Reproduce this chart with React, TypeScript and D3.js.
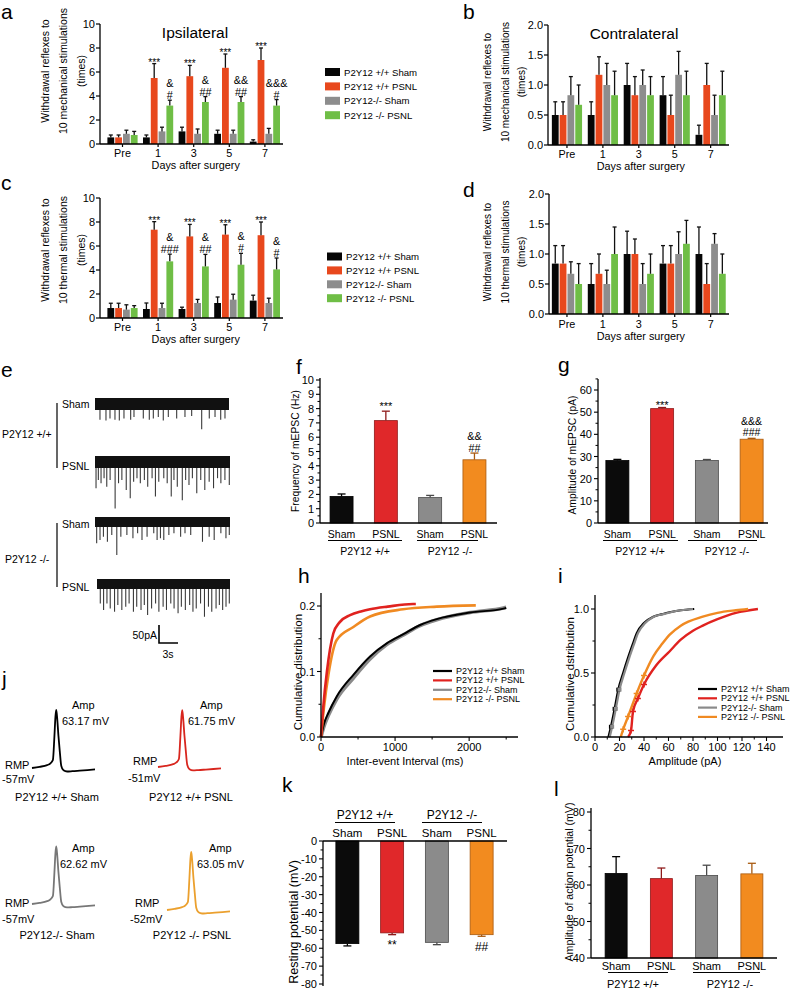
import React from "react";
import * as d3 from "d3";

const FONT = "'Liberation Sans', Arial, Helvetica, sans-serif";

// ---------------- panels a–d ----------------
const days = ["Pre", "1", "3", "5", "7"];
const groupNames = ["P2Y12 +/+ Sham", "P2Y12 +/+ PSNL", "P2Y12-/- Sham", "P2Y12 -/- PSNL"];
const adColors = ["#060606", "#e8481d", "#8d8d8d", "#6fbe46"];

// per day: [+/+ Sham, +/+ PSNL, -/- Sham, -/- PSNL]
const mechIpsiMean = [[0.55, 0.55, 0.85, 0.75], [0.55, 5.5, 1.05, 3.2], [1.05, 5.65, 0.85, 3.5], [0.85, 6.35, 0.85, 3.5], [0.2, 7.0, 0.85, 3.2]];
const mechIpsiSem = [[0.2, 0.2, 0.3, 0.3], [0.2, 1.2, 0.35, 0.45], [0.35, 0.9, 0.4, 0.45], [0.3, 1.15, 0.3, 0.45], [0.15, 1.0, 0.45, 0.5]];
const mechIpsiStars = ["", "***", "***", "***", "***"];
const mechIpsiHash = [[], ["&", "#"], ["&", "##"], ["&&", "##"], ["&&&", "#"]];

const mechContraMean = [[0.5, 0.5, 0.83, 0.67], [0.5, 1.17, 1.0, 0.83], [1.0, 0.83, 1.0, 0.83], [0.83, 0.5, 1.17, 0.83], [0.17, 1.0, 0.5, 0.83]];
const mechContraSem = [[0.22, 0.22, 0.31, 0.33], [0.22, 0.3, 0.36, 0.4], [0.36, 0.31, 0.25, 0.31], [0.31, 0.33, 0.39, 0.4], [0.16, 0.36, 0.33, 0.4]];

const thermIpsiMean = [[0.83, 0.83, 0.7, 0.83], [0.75, 7.36, 0.83, 4.72], [0.75, 6.8, 1.25, 4.3], [1.25, 6.95, 1.53, 4.44], [1.45, 6.9, 1.25, 4.05]];
const thermIpsiSem = [[0.4, 0.4, 0.4, 0.2], [0.5, 0.67, 0.4, 0.6], [0.15, 1.0, 0.3, 1.0], [0.5, 0.82, 0.45, 0.95], [0.45, 1.1, 0.4, 0.95]];
const thermIpsiStars = ["", "***", "***", "***", "***"];
const thermIpsiHash = [[], ["&", "###"], ["&", "##"], ["&", "#"], ["&", "#"]];

const thermContraMean = [[0.84, 0.84, 0.67, 0.5], [0.5, 0.67, 0.5, 1.0], [1.0, 1.0, 0.5, 0.67], [0.84, 0.84, 1.0, 1.17], [1.0, 0.5, 1.17, 0.67]];
const thermContraSem = [[0.3, 0.3, 0.2, 0.34], [0.34, 0.33, 0.23, 0.45], [0.38, 0.25, 0.34, 0.33], [0.3, 0.3, 0.37, 0.39], [0.45, 0.34, 0.17, 0.33]];

const ticks10 = [0, 2, 4, 6, 8, 10];
const ticks2 = [0, 0.5, 1.0, 1.5, 2.0];

// ---------------- panel e ----------------
// events: [time (s), amplitude (pA)]
const traceWtSham = [[0.78, 44], [1.72, 46], [2.35, 40], [3.13, 44], [3.81, 46], [4.54, 40], [5.59, 44], [6.11, 36], [7.57, 40], [8.51, 44], [9.14, 40], [9.92, 36], [10.7, 46], [11.49, 36], [12.8, 40], [14.1, 36], [15.15, 33], [16.72, 70], [17.91, 40], [18.81, 36], [19.7, 44], [20.37, 40]];
const traceWtPsnl = [[0.16, 73], [0.52, 50], [0.94, 59], [1.41, 45], [1.83, 69], [2.35, 50], [3.13, 129], [3.66, 59], [4.18, 50], [4.86, 78], [5.48, 101], [6.01, 55], [6.53, 45], [7.05, 59], [7.68, 50], [8.2, 69], [8.88, 45], [9.4, 96], [9.92, 55], [10.7, 45], [11.23, 59], [11.86, 96], [12.28, 50], [12.8, 69], [13.58, 106], [14.1, 50], [14.62, 64], [15.15, 45], [15.83, 87], [16.45, 50], [17.08, 78], [17.76, 55], [18.44, 73], [19.06, 45], [19.58, 59], [20.21, 50], [20.89, 64]];
const traceKoSham = [[0.26, 59], [0.78, 50], [1.31, 41], [1.93, 55], [2.61, 36], [3.39, 92], [4.02, 41], [4.96, 36], [5.9, 45], [6.63, 31], [7.31, 50], [8.1, 41], [9.14, 31], [9.66, 50], [10.18, 45], [10.7, 50], [11.49, 36], [12.28, 31], [13.32, 41], [14.0, 31], [14.89, 36], [16.72, 55], [17.76, 41], [18.54, 50], [19.58, 31], [20.37, 45], [20.89, 36]];
const traceKoPsnl = [[0.52, 54], [1.04, 72], [1.57, 54], [2.09, 68], [2.77, 77], [3.29, 58], [3.92, 72], [4.54, 63], [5.07, 54], [5.75, 77], [6.27, 63], [6.95, 72], [7.47, 58], [7.99, 86], [8.62, 68], [9.25, 54], [9.77, 77], [10.44, 63], [10.97, 72], [11.65, 54], [12.17, 68], [12.8, 81], [13.32, 63], [13.95, 72], [14.63, 58], [15.15, 77], [15.67, 68], [16.35, 54], [16.97, 91], [17.6, 63], [18.12, 77], [18.8, 68], [19.32, 58], [19.84, 72], [20.37, 63], [20.89, 54]];

// ---------------- f, g, k, l ----------------
const barLabels = ["Sham", "PSNL", "Sham", "PSNL"];
const genotypes = ["P2Y12 +/+", "P2Y12 -/-"];
const barFill = ["#0b0b0b", "#e0282a", "#8b8b8b", "#f28b1f"];
const barEdge = ["#000000", "#8e1a1a", "#4a4a4a", "#a85a10"];
const freqMean = [1.86, 7.16, 1.78, 4.42];
const freqSem = [0.17, 0.66, 0.15, 0.47];
const ampMean = [28.2, 51.6, 28.2, 37.8];
const ampSem = [0.5, 0.5, 0.45, 0.4];
const rmpMean = [-57.4, -51.4, -56.7, -52.4];
const rmpSem = [1.3, 1.0, 1.3, 0.9];
const apAmpMean = [63.17, 61.75, 62.62, 63.05];
const apAmpSem = [4.6, 2.9, 2.8, 2.9];

// ---------------- h, i ----------------
const lineColors = ["#000000", "#e0221f", "#8a8a8a", "#f08a22"];
const ieiBlackT = [0, 40, 100, 212, 437, 662, 887, 1113, 1338, 1563, 2014, 2464, 2500];
const ieiBlackV = [0, 0.02, 0.037, 0.062, 0.095, 0.123, 0.143, 0.157, 0.171, 0.18, 0.19, 0.196, 0.197];
const ieiGrayT = [0, 40, 100, 212, 437, 662, 887, 1113, 1338, 1563, 2014, 2464, 2500];
const ieiGrayV = [0, 0.016, 0.033, 0.058, 0.09, 0.119, 0.141, 0.156, 0.17, 0.179, 0.19, 0.197, 0.198];
const ieiRedT = [0, 30, 80, 166, 250, 392, 550, 662, 900, 1243, 1280];
const ieiRedV = [0, 0.045, 0.1, 0.158, 0.175, 0.186, 0.192, 0.195, 0.199, 0.203, 0.203];
const ieiOrangeT = [0, 40, 100, 212, 437, 662, 1108, 1563, 2090];
const ieiOrangeV = [0, 0.045, 0.095, 0.148, 0.168, 0.184, 0.195, 0.199, 0.201];

const ampBlackA = [11, 13, 16, 19, 23, 27, 31, 34, 40, 47.6, 55, 61, 70, 81];
const ampBlackV = [0, 0.08, 0.22, 0.37, 0.5, 0.62, 0.73, 0.81, 0.89, 0.94, 0.96, 0.975, 0.99, 1.0];
const ampGrayA = [12, 14, 17, 20, 24, 28, 32, 35, 41, 48, 56, 62, 70, 80];
const ampGrayV = [0, 0.08, 0.22, 0.37, 0.5, 0.62, 0.73, 0.81, 0.89, 0.94, 0.96, 0.975, 0.99, 1.0];
const ampRedA = [27, 29.4, 31, 35, 40, 50, 61, 70, 80, 88, 100, 115, 133];
const ampRedV = [0, 0.05, 0.2, 0.3, 0.41, 0.56, 0.67, 0.76, 0.83, 0.87, 0.92, 0.97, 1.0];
const ampOrangeA = [21, 23, 27, 34, 40, 47.6, 55, 61, 70, 88, 100, 115, 125];
const ampOrangeV = [0, 0.06, 0.16, 0.34, 0.48, 0.63, 0.73, 0.8, 0.87, 0.94, 0.97, 0.99, 1.0];

// ---------------- j ----------------
const apTimeMs = [0, 3, 6, 7.3, 8.3, 8.9, 9.3, 9.6, 9.9, 10.5, 11.0, 11.6, 12.5, 13.9, 16, 19, 25];
const apShape = [0, 0.02, 0.05, 0.08, 0.14, 0.55, 0.88, 1.0, 0.9, 0.55, 0.3, 0.04, -0.04, -0.06, -0.055, -0.045, -0.025];
const apRmp = [-57, -51, -57, -52];
const apColors = ["#000000", "#d8261e", "#777777", "#eba02e"];
const apAmpText = ["63.17 mV", "61.75 mV", "62.62 mV", "63.05 mV"];
const apRmpText = ["-57mV", "-51mV", "-57mV", "-52mV"];

// ======================================================
type DayProps = {
  means: number[][]; sems: number[][]; yMax: number; yTicks: number[]; fmt: (v: number) => string;
  axisX: number; y0: number; yTop: number; xRange: [number, number]; xEnd: number;
  title?: string; titleX?: number; titleY?: number;
  labelLines: string[]; labelXs: number[]; labelY: number; labelSize: number;
  tickBase: number; xTitleBase: number; stars?: string[]; hashes?: string[][];
};

function DayPanel(p: DayProps) {
  const y = d3.scaleLinear().domain([0, p.yMax]).range([p.y0, p.yTop]);
  const x = d3.scaleBand<string>().domain(days).range(p.xRange);
  const bw = 6.8, step = 7.8;
  const xMid = (p.xRange[0] + p.xRange[1]) / 2;
  return (
    <g>
      {days.map((d, di) => {
        const c = (x(d) as number) + x.bandwidth() / 2;
        return (
          <g key={d}>
            {p.means[di].map((m, gi) => {
              const cx = c + (gi - 1.5) * step;
              const top = y(m);
              const et = y(m + p.sems[di][gi]);
              return (
                <g key={gi}>
                  <rect x={cx - bw / 2} y={top} width={bw} height={p.y0 - top} fill={adColors[gi]} />
                  <line x1={cx} x2={cx} y1={top} y2={et} stroke="#111" strokeWidth={1.3} />
                  <line x1={cx - 2} x2={cx + 2} y1={et} y2={et} stroke="#111" strokeWidth={1.3} />
                  {gi === 1 && p.stars && p.stars[di] ? (
                    <text x={cx} y={et + 2} fontSize={10} textAnchor="middle">{p.stars[di]}</text>
                  ) : null}
                  {gi === 3 && p.hashes
                    ? p.hashes[di].map((h, hi, arr) => (
                        <text key={hi} x={cx} y={et - 1 - (arr.length - 1 - hi) * 12} fontSize={10.8} textAnchor="middle">{h}</text>
                      ))
                    : null}
                </g>
              );
            })}
            <line x1={c} x2={c} y1={p.y0} y2={p.y0 + 3} stroke="#000" strokeWidth={1.2} />
            <text x={c} y={p.tickBase} fontSize={10.8} textAnchor="middle">{d}</text>
          </g>
        );
      })}
      <line x1={p.axisX} x2={p.xEnd} y1={p.y0} y2={p.y0} stroke="#000" strokeWidth={1.3} />
      <line x1={p.axisX} x2={p.axisX} y1={p.y0} y2={p.yTop} stroke="#000" strokeWidth={1.3} />
      {p.yTicks.map((t) => (
        <g key={t}>
          <line x1={p.axisX - 4} x2={p.axisX} y1={y(t)} y2={y(t)} stroke="#000" strokeWidth={1.2} />
          <text x={p.axisX - 5} y={y(t) + 4} fontSize={11} textAnchor="end">{p.fmt(t)}</text>
        </g>
      ))}
      <text x={xMid + 2} y={p.xTitleBase} fontSize={10.8} textAnchor="middle">Days after surgery</text>
      {p.title ? <text x={p.titleX} y={p.titleY} fontSize={15.5} textAnchor="middle">{p.title}</text> : null}
      {p.labelLines.map((l, i) => (
        <text key={i} transform={`translate(${p.labelXs[i]},${p.labelY}) rotate(-90)`} fontSize={p.labelSize} textAnchor="middle">{l}</text>
      ))}
    </g>
  );
}

function Legend4({ x, y0, dy, size }: { x: number; y0: number; dy: number; size: number }) {
  return (
    <g>
      {groupNames.map((g, i) => (
        <g key={g}>
          <rect x={x} y={y0 + i * dy - 4} width={15} height={8} fill={adColors[i]} />
          <text x={x + 19} y={y0 + i * dy + 3.5} fontSize={size}>{g}</text>
        </g>
      ))}
    </g>
  );
}

function Trace({ events, x0, x1, cy, half }: { events: number[][]; x0: number; x1: number; cy: number; half: number }) {
  const x = d3.scaleLinear().domain([0, 21]).range([x0, x1]);
  const y = d3.scaleLinear().domain([0, 50]).range([cy, cy + 18]);
  return (
    <g>
      {events.map(([t, a], i) => (
        <line key={i} x1={x(t)} x2={x(t)} y1={cy} y2={y(a)} stroke="#3a3a3a" strokeWidth={1.1} />
      ))}
      <rect x={x0} y={cy - half} width={x1 - x0} height={half * 2} fill="#111" />
    </g>
  );
}

type BarProps = {
  means: number[]; sems: number[]; domain: [number, number]; yRange: [number, number]; base: number;
  ticks: number[]; minor: number[]; axisX: number; axisTop: number; axisBottom: number; xRange: [number, number]; xEnd: number;
  bw: number; fmt?: (v: number) => string; labelText: string; labelX: number; labelY: number; labelSize: number;
  catBase: number; lineY: number; genoBase: number; lines: [number, number][]; genoX: number[]; catSize: number; genoSize: number;
  marks?: { i: number; texts: string[]; offsets: number[]; size: number }[];
};

function BarPanel(p: BarProps) {
  const y = d3.scaleLinear().domain(p.domain).range(p.yRange);
  const x = d3.scalePoint<number>().domain([0, 1, 2, 3]).range(p.xRange).padding(0.5);
  const yb = y(p.base);
  const fmt = p.fmt || ((v: number) => String(v));
  return (
    <g>
      {p.means.map((m, i) => {
        const cx = x(i) as number;
        const top = Math.min(y(m), yb);
        const h = Math.abs(y(m) - yb);
        const sign = m >= p.base ? 1 : -1;
        const ey = y(m + sign * p.sems[i]);
        return (
          <g key={i}>
            <line x1={cx} x2={cx} y1={y(m)} y2={ey} stroke={barEdge[i]} strokeWidth={1.3} />
            <line x1={cx - 4} x2={cx + 4} y1={ey} y2={ey} stroke={barEdge[i]} strokeWidth={1.3} />
            <rect x={cx - p.bw / 2} y={top} width={p.bw} height={h} fill={barFill[i]} stroke={barEdge[i]} strokeWidth={0.8} />
            <text x={cx} y={p.catBase} fontSize={p.catSize} textAnchor="middle">{barLabels[i]}</text>
          </g>
        );
      })}
      {p.marks
        ? p.marks.map((mk, k) => {
            const cx = x(mk.i) as number;
            const m = p.means[mk.i];
            const sign = m >= p.base ? 1 : -1;
            const ey = y(m + sign * p.sems[mk.i]);
            return mk.texts.map((t, j) => (
              <text key={k + "-" + j} x={cx} y={ey + mk.offsets[j]} fontSize={mk.size} textAnchor="middle">{t}</text>
            ));
          })
        : null}
      <line x1={p.axisX} x2={p.xEnd} y1={yb} y2={yb} stroke="#000" strokeWidth={1.3} />
      <line x1={p.axisX} x2={p.axisX} y1={p.axisTop} y2={p.axisBottom} stroke="#000" strokeWidth={1.3} />
      {p.ticks.map((t) => (
        <g key={t}>
          <line x1={p.axisX - 4} x2={p.axisX} y1={y(t)} y2={y(t)} stroke="#000" strokeWidth={1.1} />
          <text x={p.axisX - 6} y={y(t) + 4} fontSize={11} textAnchor="end">{fmt(t)}</text>
        </g>
      ))}
      {p.minor.map((t) => (
        <line key={"m" + t} x1={p.axisX - 2.5} x2={p.axisX} y1={y(t)} y2={y(t)} stroke="#000" strokeWidth={1} />
      ))}
      {p.lines.map((l, i) => (
        <line key={"u" + i} x1={l[0]} x2={l[1]} y1={p.lineY} y2={p.lineY} stroke="#000" strokeWidth={1} />
      ))}
      {genotypes.map((g, i) => (
        <text key={g} x={p.genoX[i]} y={p.genoBase} fontSize={p.genoSize} textAnchor="middle">{g}</text>
      ))}
      <text transform={`translate(${p.labelX},${p.labelY}) rotate(-90)`} fontSize={p.labelSize} textAnchor="middle">{p.labelText}</text>
    </g>
  );
}

type CdfCurve = { xs: number[]; vs: number[]; color: string; width: number };
type CdfProps = {
  curves: CdfCurve[]; xDomain: [number, number]; xRange: [number, number]; yDomain: [number, number]; yRange: [number, number];
  xTicks: number[]; xMinor: number[]; yTicks: number[]; yMinor: number[]; yFmt: (v: number) => string;
  axisTop: number; xEnd: number; xLabel: string; xLabelX: number; yLabel: string; yLabelX: number; yLabelY: number;
  legX: number; legY: number; legDy: number; markers?: boolean;
};

function CdfPanel(p: CdfProps) {
  const x = d3.scaleLinear().domain(p.xDomain).range(p.xRange);
  const y = d3.scaleLinear().domain(p.yDomain).range(p.yRange);
  const x0 = p.xRange[0], y0 = p.yRange[0];
  return (
    <g>
      {p.curves.map((c, i) => {
        const pts = c.xs.map((v, k) => [x(v), y(c.vs[k])] as [number, number]);
        const gen = d3.line<[number, number]>().curve(d3.curveMonotoneX);
        return <path key={i} d={gen(pts) || ""} fill="none" stroke={c.color} strokeWidth={c.width} strokeLinejoin="round" />;
      })}
      {p.markers
        ? p.curves.map((c, i) =>
            c.xs.map((v, k) =>
              c.vs[k] > 0.02 && c.vs[k] < 0.5 ? (
                i === 0 || i === 2 ? (
                  <rect key={i + "-" + k} x={x(v) - 2} y={y(c.vs[k]) - 2} width={4} height={4} fill={c.color} />
                ) : (
                  <path key={i + "-" + k} d={`M${x(v) - 3},${y(c.vs[k])}h6M${x(v)},${y(c.vs[k]) - 3}v6`} stroke={c.color} strokeWidth={1.5} />
                )
              ) : null
            )
          )
        : null}
      <line x1={x0} x2={p.xEnd} y1={y0} y2={y0} stroke="#000" strokeWidth={1.3} />
      <line x1={x0} x2={x0} y1={y0} y2={p.axisTop} stroke="#000" strokeWidth={1.3} />
      {p.yTicks.map((t) => (
        <g key={t}>
          <line x1={x0 - 4} x2={x0} y1={y(t)} y2={y(t)} stroke="#000" strokeWidth={1.1} />
          <text x={x0 - 6} y={y(t) + 4} fontSize={11} textAnchor="end">{p.yFmt(t)}</text>
        </g>
      ))}
      {p.yMinor.map((t) => (
        <line key={"ym" + t} x1={x0 - 2.5} x2={x0} y1={y(t)} y2={y(t)} stroke="#000" strokeWidth={1} />
      ))}
      {p.xTicks.map((t) => (
        <g key={t}>
          <line x1={x(t)} x2={x(t)} y1={y0} y2={y0 + 4} stroke="#000" strokeWidth={1.1} />
          <text x={x(t)} y={y0 + 14} fontSize={11} textAnchor="middle">{t}</text>
        </g>
      ))}
      {p.xMinor.map((t) => (
        <line key={"xm" + t} x1={x(t)} x2={x(t)} y1={y0} y2={y0 + 2.5} stroke="#000" strokeWidth={1} />
      ))}
      <text x={p.xLabelX} y={y0 + 28} fontSize={11} textAnchor="middle">{p.xLabel}</text>
      <text transform={`translate(${p.yLabelX},${p.yLabelY}) rotate(-90)`} fontSize={11.5} textAnchor="middle">{p.yLabel}</text>
      {groupNames.map((g, i) => (
        <g key={g}>
          <line x1={p.legX} x2={p.legX + 19} y1={p.legY + i * p.legDy} y2={p.legY + i * p.legDy} stroke={lineColors[i]} strokeWidth={2.2} />
          <text x={p.legX + 23} y={p.legY + i * p.legDy + 3} fontSize={9}>{g}</text>
        </g>
      ))}
    </g>
  );
}

function ApTrace({ idx, x0, y0 }: { idx: number; x0: number; y0: number }) {
  const rmp = apRmp[idx];
  const amp = apAmpMean[idx];
  const x = d3.scaleLinear().domain([0, 25]).range([x0, x0 + 63]);
  const y = d3.scaleLinear().domain([rmp, rmp + 63]).range([y0, y0 - 58]);
  const pts = apTimeMs.map((t, k) => [x(t), y(rmp + apShape[k] * amp)] as [number, number]);
  const gen = d3.line<[number, number]>().curve(d3.curveMonotoneX);
  return <path d={gen(pts) || ""} fill="none" stroke={apColors[idx]} strokeWidth={1.8} />;
}

export default function App() {
  const fmt1 = (v: number) => v.toFixed(1);
  const fmt0 = (v: number) => String(v);
  const apCells = [
    { x0: 32, y0: 768, ampX: 72, valX: 62, rmpX: 5, rmpLX: 2, top: 709, titleX: 57, titleY: 801, rmpY: 769, rmpVY: 783 },
    { x0: 158, y0: 767, ampX: 200, valX: 188, rmpX: 133, rmpLX: 128, top: 709, titleX: 191, titleY: 801, rmpY: 765, rmpVY: 782 },
    { x0: 32, y0: 904, ampX: 72, valX: 60, rmpX: 5, rmpLX: 2, top: 852, titleX: 57, titleY: 939, rmpY: 907, rmpVY: 923 },
    { x0: 167, y0: 910, ampX: 209, valX: 197, rmpX: 135, rmpLX: 130, top: 852, titleX: 192, titleY: 939, rmpY: 907, rmpVY: 923 },
  ];
  const apTitles = ["P2Y12 +/+ Sham", "P2Y12 +/+ PSNL", "P2Y12-/- Sham", "P2Y12 -/- PSNL"];
  return (
    <svg width={794} height={990} style={{ position: "absolute", left: 0, top: 0, background: "#fff" }} fontFamily={FONT} fill="#000">
      <rect x={0} y={0} width={794} height={990} fill="#fff" />
      {/* panel letters */}
      <text x={1} y={19} fontSize={21}>a</text>
      <text x={463} y={19} fontSize={21}>b</text>
      <text x={1} y={190} fontSize={21}>c</text>
      <text x={463} y={197} fontSize={21}>d</text>
      <text x={1} y={377} fontSize={21}>e</text>
      <text x={296} y={374} fontSize={21}>f</text>
      <text x={558} y={372} fontSize={21}>g</text>
      <text x={298} y={583} fontSize={21}>h</text>
      <text x={558} y={583} fontSize={21}>i</text>
      <text x={2} y={686} fontSize={21}>j</text>
      <text x={282} y={792} fontSize={21}>k</text>
      <text x={554} y={796} fontSize={21}>l</text>

      {/* a */}
      <DayPanel means={mechIpsiMean} sems={mechIpsiSem} yMax={10} yTicks={ticks10} fmt={fmt0}
        axisX={100} y0={144} yTop={24} xRange={[104.7, 282.7]} xEnd={283}
        title="Ipsilateral" titleX={195} titleY={38}
        labelLines={["Withdrawal reflexes to", "10 mechanical stimulations", "(times)"]} labelXs={[49, 67, 85]} labelY={71} labelSize={10.5}
        tickBase={157} xTitleBase={169} stars={mechIpsiStars} hashes={mechIpsiHash} />
      <Legend4 x={325} y0={72} dy={14.4} size={9.6} />

      {/* b */}
      <DayPanel means={mechContraMean} sems={mechContraSem} yMax={2} yTicks={ticks2} fmt={fmt1}
        axisX={548} y0={145} yTop={25} xRange={[549, 728.6]} xEnd={729}
        title="Contralateral" titleX={634} titleY={39}
        labelLines={["Withdrawal reflexes to", "10 mechanical stimulations", "(times)"]} labelXs={[491, 509, 525]} labelY={82} labelSize={10}
        tickBase={158} xTitleBase={170} />

      {/* c */}
      <DayPanel means={thermIpsiMean} sems={thermIpsiSem} yMax={10} yTicks={ticks10} fmt={fmt0}
        axisX={100} y0={318} yTop={198} xRange={[104.7, 282.7]} xEnd={283}
        labelLines={["Withdrawal reflexes to", "10 thermal stimulations", "(times)"]} labelXs={[49, 67, 85]} labelY={250} labelSize={10.5}
        tickBase={331} xTitleBase={343} stars={thermIpsiStars} hashes={thermIpsiHash} />
      <Legend4 x={327} y0={256.5} dy={13.9} size={9.6} />

      {/* d */}
      <DayPanel means={thermContraMean} sems={thermContraSem} yMax={2} yTicks={ticks2} fmt={fmt1}
        axisX={549} y0={314} yTop={194} xRange={[549, 728.6]} xEnd={729}
        labelLines={["Withdrawal reflexes to", "10 thermal stimulations", "(times)"]} labelXs={[491, 509, 525]} labelY={252} labelSize={10}
        tickBase={328} xTitleBase={340} />

      {/* e */}
      <g>
        <Trace events={traceWtSham} x0={95} x1={229} cy={404} half={6} />
        <Trace events={traceWtPsnl} x0={95} x1={230} cy={462} half={6} />
        <Trace events={traceKoSham} x0={95} x1={230} cy={522} half={5} />
        <Trace events={traceKoPsnl} x0={97} x1={230} cy={584} half={5} />
        <text x={62} y={408} fontSize={10.5}>Sham</text>
        <text x={62} y={470} fontSize={10.5}>PSNL</text>
        <text x={62} y={528} fontSize={10.5}>Sham</text>
        <text x={62} y={591} fontSize={10.5}>PSNL</text>
        <text x={2} y={438} fontSize={10.5}>P2Y12 +/+</text>
        <text x={5} y={563} fontSize={10.5}>P2Y12 -/-</text>
        <line x1={57} x2={57} y1={403} y2={468} stroke="#000" strokeWidth={1.2} />
        <line x1={57} x2={57} y1={523} y2={587} stroke="#000" strokeWidth={1.2} />
        <path d="M159,625V643H178" fill="none" stroke="#000" strokeWidth={1.6} />
        <text x={157} y={639} fontSize={10.5} textAnchor="end">50pA</text>
        <text x={168} y={658} fontSize={10.5} textAnchor="middle">3s</text>
      </g>

      {/* f */}
      <BarPanel means={freqMean} sems={freqSem} domain={[0, 10]} yRange={[523, 380]} base={0}
        ticks={[0, 1, 2, 3, 4, 5, 6, 7, 8, 9, 10]} minor={[0.5, 1.5, 2.5, 3.5, 4.5, 5.5, 6.5, 7.5, 8.5, 9.5]}
        axisX={320} axisTop={378} axisBottom={523} xRange={[319.4, 496.6]} xEnd={497} bw={23}
        labelText="Frequency of mEPSC (Hz)" labelX={299} labelY={451} labelSize={10.3}
        catBase={538} lineY={540.5} genoBase={555} lines={[[328, 402], [417, 478]]} genoX={[365, 450]} catSize={10.5} genoSize={10.5}
        marks={[{ i: 1, texts: ["***"], offsets: [-1], size: 11 }, { i: 3, texts: ["&&", "##"], offsets: [-13, -1], size: 10.8 }]} />

      {/* g */}
      <BarPanel means={ampMean} sems={ampSem} domain={[0, 60]} yRange={[523, 390]} base={0}
        ticks={[0, 10, 20, 30, 40, 50, 60]} minor={[5, 15, 25, 35, 45, 55, 65]}
        axisX={598} axisTop={379} axisBottom={523} xRange={[595, 774]} xEnd={768} bw={23}
        labelText="Amplitude of mEPSC (pA)" labelX={576} labelY={455} labelSize={10.3}
        catBase={538} lineY={540.5} genoBase={555} lines={[[603, 678], [688, 757]]} genoX={[640, 727]} catSize={10.5} genoSize={10.5}
        marks={[{ i: 1, texts: ["***"], offsets: [1], size: 11 }, { i: 3, texts: ["&&&", "###"], offsets: [-13.5, -2], size: 10.5 }]} />

      {/* h */}
      <CdfPanel
        curves={[
          { xs: ieiGrayT, vs: ieiGrayV, color: lineColors[2], width: 3.6 },
          { xs: ieiBlackT, vs: ieiBlackV, color: lineColors[0], width: 2 },
          { xs: ieiOrangeT, vs: ieiOrangeV, color: lineColors[3], width: 2.6 },
          { xs: ieiRedT, vs: ieiRedV, color: lineColors[1], width: 2.6 },
        ]}
        xDomain={[0, 2700]} xRange={[321, 521]} yDomain={[0, 0.2]} yRange={[737, 606]}
        xTicks={[0, 1000, 2000]} xMinor={[500, 1500, 2500]} yTicks={[0, 0.1, 0.2]} yMinor={[0.05, 0.15]} yFmt={fmt1}
        axisTop={593} xEnd={518} xLabel="Inter-event Interval (ms)" xLabelX={405} yLabel="Cumulative distribution" yLabelX={302} yLabelY={672}
        legX={433} legY={671} legDy={9.4} />

      {/* i */}
      <CdfPanel
        curves={[
          { xs: ampBlackA, vs: ampBlackV, color: lineColors[0], width: 2.2 },
          { xs: ampRedA, vs: ampRedV, color: lineColors[1], width: 2.4 },
          { xs: ampGrayA, vs: ampGrayV, color: lineColors[2], width: 2.2 },
          { xs: ampOrangeA, vs: ampOrangeV, color: lineColors[3], width: 2.4 },
        ]}
        xDomain={[0, 140]} xRange={[595, 766.5]} yDomain={[0, 1]} yRange={[737, 609]}
        xTicks={[0, 20, 40, 60, 80, 100, 120, 140]} xMinor={[10, 30, 50, 70, 90, 110, 130]} yTicks={[0, 0.5, 1.0]} yMinor={[0.25, 0.75]} yFmt={fmt1}
        axisTop={595} xEnd={783} xLabel="Amplitude (pA)" xLabelX={685} yLabel="Cumulative dstribution" yLabelX={574} yLabelY={674}
        legX={698} legY={689} legDy={9.3} markers={true} />

      {/* j */}
      <g>
        {apCells.map((c, i) => (
          <g key={i}>
            <ApTrace idx={i} x0={c.x0} y0={c.y0} />
            <text x={c.ampX} y={c.top} fontSize={11}>Amp</text>
            <text x={c.valX} y={c.top + 16} fontSize={11}>{apAmpText[i]}</text>
            <text x={c.rmpX} y={c.rmpY} fontSize={11}>RMP</text>
            <text x={c.rmpLX} y={c.rmpVY} fontSize={11}>{apRmpText[i]}</text>
            <text x={c.titleX} y={c.titleY} fontSize={11} textAnchor="middle">{apTitles[i]}</text>
          </g>
        ))}
      </g>

      {/* k */}
      <BarPanel means={rmpMean} sems={rmpSem} domain={[-80, 0]} yRange={[984, 841]} base={0}
        ticks={[0, -10, -20, -30, -40, -50, -60, -70, -80]} minor={[-5, -15, -25, -35, -45, -55, -65, -75]}
        axisX={323} axisTop={841} axisBottom={986} xRange={[325, 504]} xEnd={507} bw={23}
        labelText="Resting potential (mV)" labelX={298} labelY={922} labelSize={12.5}
        catBase={837} lineY={822.5} genoBase={819} lines={[[335, 395], [422, 482]]} genoX={[365, 452]} catSize={11.5} genoSize={12}
        marks={[{ i: 1, texts: ["**"], offsets: [14], size: 12 }, { i: 3, texts: ["##"], offsets: [14.5], size: 12 }]} />

      {/* l */}
      <BarPanel means={apAmpMean} sems={apAmpSem} domain={[40, 80]} yRange={[958, 812]} base={40}
        ticks={[40, 50, 60, 70, 80]} minor={[45, 55, 65, 75]}
        axisX={591} axisTop={808} axisBottom={958} xRange={[593.5, 774.5]} xEnd={777} bw={22}
        labelText="Amplitude of action potential (mV)" labelX={573} labelY={882} labelSize={10.6}
        catBase={970} lineY={972.5} genoBase={988} lines={[[608, 668], [693, 760]]} genoX={[633, 730]} catSize={11} genoSize={11} />
    </svg>
  );
}
